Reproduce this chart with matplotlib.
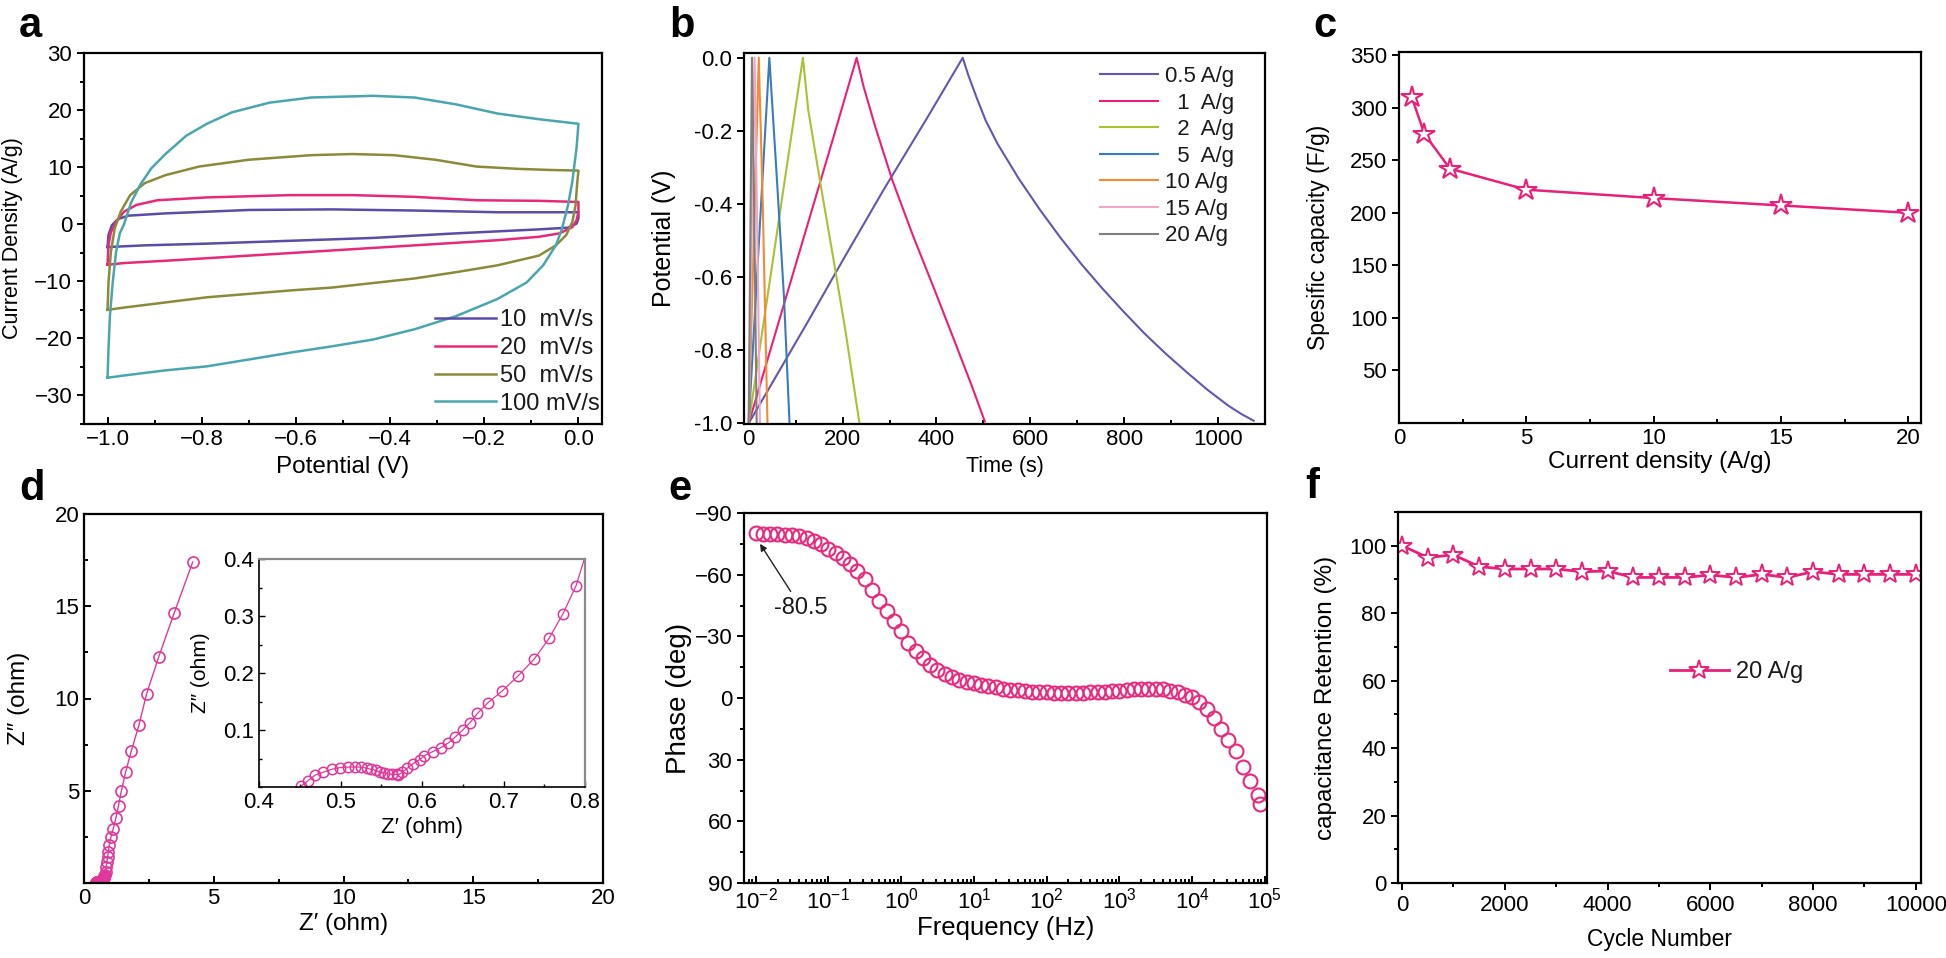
import numpy as np
import matplotlib
matplotlib.use("Agg")
import matplotlib.pyplot as plt
from matplotlib.ticker import MultipleLocator, LogLocator, NullFormatter, FixedLocator

plt.rcParams['font.family'] = ['Liberation Sans', 'DejaVu Sans']
plt.rcParams['axes.linewidth'] = 1.6
plt.rcParams['text.color'] = '#1a1a1a'

# ---------------- DATA ----------------
# (a) CV loops, potential (V) and current density (A/g)
cv_labels = ['10  mV/s', '20  mV/s', '50  mV/s', '100 mV/s']
cv_colors = ['#5b4ca8', '#e8287a', '#8c8a3a', '#4aa6ac']
cv10_V = [-1.0, -0.998, -0.991, -0.978, -0.956, -0.877, -0.70, -0.524, -0.348, -0.172, 0.0,
          0.0, -0.004, -0.022, -0.084, -0.26, -0.436, -0.612, -0.789, -0.921, -1.0]
cv10_I = [-4.0, -1.9, -0.2, 0.9, 1.5, 1.9, 2.5, 2.6, 2.4, 2.1, 2.1,
          1.0, 0.1, -0.6, -0.9, -1.6, -2.4, -2.9, -3.4, -3.7, -4.0]
cv20_V = [-1.0, -0.998, -0.993, -0.982, -0.965, -0.938, -0.894, -0.789, -0.612, -0.48, -0.348, -0.216, -0.084, 0.0,
          0.0, -0.004, -0.013, -0.04, -0.084, -0.172, -0.348, -0.524, -0.70, -0.877, -0.965, -1.0]
cv20_I = [-7.1, -3.7, -1.4, 0.4, 2.2, 3.4, 4.2, 4.7, 5.1, 5.1, 4.8, 4.2, 4.1, 3.9,
          2.2, 0.7, -0.5, -1.6, -2.2, -2.8, -3.7, -4.6, -5.5, -6.4, -6.8, -7.1]
cv50_V = [-1.0, -0.998, -0.993, -0.985, -0.972, -0.952, -0.921, -0.877, -0.806, -0.70, -0.568, -0.48, -0.392,
          -0.304, -0.216, -0.128, -0.057, 0.0, -0.003, -0.006, -0.013, -0.026, -0.048, -0.084, -0.172, -0.26,
          -0.348, -0.436, -0.524, -0.612, -0.70, -0.789, -0.877, -0.965, -1.0]
cv50_I = [-15.0, -10.2, -4.9, -0.8, 2.2, 5.1, 7.2, 8.6, 10.1, 11.3, 12.1, 12.3, 12.1,
          11.3, 10.1, 9.7, 9.5, 9.4, 6.9, 3.4, 0.4, -1.9, -3.7, -5.5, -7.2, -8.4,
          -9.5, -10.3, -11.1, -11.6, -12.2, -12.8, -13.7, -14.6, -15.0]
cv100_V = [-1.0, -0.998, -0.995, -0.989, -0.982, -0.974, -0.965, -0.95, -0.93, -0.907, -0.877, -0.833, -0.789,
           -0.736, -0.656, -0.568, -0.436, -0.348, -0.26, -0.172, -0.084, 0.0, -0.004, -0.013, -0.022, -0.035,
           -0.048, -0.075, -0.11, -0.172, -0.26, -0.348, -0.436, -0.524, -0.612, -0.70, -0.789, -0.877, -0.965, -1.0]
cv100_I = [-26.9, -21.9, -16.1, -10.2, -4.9, -1.6, 0.0, 3.8, 7.0, 9.8, 12.3, 15.5, 17.6,
           19.6, 21.3, 22.2, 22.5, 22.2, 21.0, 19.4, 18.4, 17.6, 13.4, 7.5, 3.4, -0.8,
           -3.7, -7.2, -10.2, -13.1, -16.1, -18.4, -20.2, -21.4, -22.5, -23.7, -24.9, -25.6, -26.5, -26.9]

# (b) galvanostatic charge/discharge
gcd_labels = ['0.5 A/g', '  1  A/g', '  2  A/g', '  5  A/g', '10 A/g', '15 A/g', '20 A/g']
gcd_colors = ['#6655b0', '#ec1f78', '#a8c232', '#3b7bbd', '#f58a33', '#f2a6c6', '#7f7f7f']
gcd05_t = [0, 50, 127, 200, 288, 380, 456, 468, 485, 505, 530, 575, 620, 664, 709, 754, 799, 843, 888,
           933, 977, 1022, 1050, 1076]
gcd05_V = [-1.0, -0.89, -0.72, -0.555, -0.36, -0.165, 0.0, -0.048, -0.107, -0.172, -0.235, -0.33, -0.415,
           -0.492, -0.565, -0.632, -0.695, -0.754, -0.809, -0.86, -0.908, -0.952, -0.975, -0.993]
gcd1_t = [0, 60, 120, 180, 230, 245, 270, 306, 351, 396, 440, 476, 503]
gcd1_V = [-1.0, -0.74, -0.48, -0.22, 0.0, -0.08, -0.19, -0.335, -0.49, -0.635, -0.78, -0.9, -0.995]
gcd2_t = [0, 115.5, 127, 154, 181, 207, 236]
gcd2_V = [-1.0, 0.0, -0.144, -0.353, -0.554, -0.754, -1.0]
gcd5_t = [0, 44, 60, 75, 87]
gcd5_V = [-1.0, 0.0, -0.33, -0.65, -1.0]
gcd10_t = [0, 21.5, 30, 40]
gcd10_V = [-1.0, 0.0, -0.4, -1.0]
gcd15_t = [0, 12.5, 18, 24]
gcd15_V = [-1.0, 0.0, -0.45, -1.0]
gcd20_t = [0, 7, 12, 17]
gcd20_V = [-1.0, 0.0, -0.45, -1.0]

# (c) rate capability
cur_density = [0.5, 1, 2, 5, 10, 15, 20]
spec_cap = [310, 275, 242, 222, 214, 207, 200]

# (d) Nyquist plot
z_re = [0.451, 0.460, 0.469, 0.479, 0.489, 0.499, 0.509, 0.518, 0.525, 0.532, 0.538, 0.544, 0.548, 0.553,
        0.558, 0.563, 0.569, 0.571, 0.576, 0.582, 0.589, 0.597, 0.603, 0.613, 0.623, 0.632, 0.641, 0.650,
        0.659, 0.668, 0.681, 0.698, 0.718, 0.738, 0.756, 0.773, 0.789, 0.81, 0.83, 0.85, 0.88, 0.91, 0.94,
        0.97, 1.04, 1.13, 1.23, 1.33, 1.44, 1.60, 1.82, 2.12, 2.41, 2.88, 3.48, 4.19]
z_im = [0.001, 0.011, 0.021, 0.026, 0.031, 0.034, 0.035, 0.035, 0.035, 0.033, 0.031, 0.029, 0.026, 0.025,
        0.023, 0.022, 0.022, 0.021, 0.026, 0.033, 0.041, 0.048, 0.055, 0.062, 0.069, 0.077, 0.088, 0.100,
        0.113, 0.129, 0.148, 0.168, 0.195, 0.225, 0.261, 0.304, 0.353, 0.45, 0.62, 0.85, 1.14, 1.41, 1.70,
        2.04, 2.50, 2.95, 3.53, 4.20, 4.99, 5.99, 7.14, 8.57, 10.24, 12.26, 14.65, 17.4]

# (e) Bode phase plot
log_freq = [-2.0, -1.9, -1.8, -1.7, -1.6, -1.5, -1.4, -1.3, -1.2, -1.1, -1.0, -0.9, -0.8, -0.7, -0.6, -0.5,
            -0.4, -0.3, -0.2, -0.1, 0.0, 0.1, 0.2, 0.3, 0.4, 0.5, 0.6, 0.7, 0.8, 0.9, 1.0, 1.1, 1.2, 1.3,
            1.4, 1.5, 1.6, 1.7, 1.8, 1.9, 2.0, 2.1, 2.2, 2.3, 2.4, 2.5, 2.6, 2.7, 2.8, 2.9, 3.0, 3.1, 3.2,
            3.3, 3.4, 3.5, 3.6, 3.7, 3.8, 3.9, 4.0, 4.1, 4.2, 4.3, 4.4, 4.5, 4.6, 4.7, 4.8, 4.9, 4.94]
phase = [-80.5, -80.0, -79.8, -79.6, -79.4, -79.1, -78.7, -77.8, -76.5, -74.7, -72.6, -70.4, -68.0, -65.3,
         -62.0, -57.8, -52.6, -47.3, -42.2, -37.6, -32.5, -27.0, -23.0, -19.3, -16.0, -13.4, -11.5, -10.1,
         -9.0, -8.0, -7.2, -6.5, -5.9, -5.2, -4.6, -4.1, -3.7, -3.3, -3.0, -2.8, -2.7, -2.6, -2.6, -2.6,
         -2.6, -2.6, -2.7, -2.8, -2.9, -3.2, -3.5, -3.9, -4.2, -4.4, -4.5, -4.5, -4.2, -3.6, -2.8, -1.6,
         -0.4, 1.9, 5.5, 9.8, 15.0, 20.5, 26.0, 33.5, 40.5, 47.0, 51.4]

# (f) cycling stability
cycles = [0, 500, 1000, 1500, 2000, 2500, 3000, 3500, 4000, 4500, 5000, 5500, 6000, 6500, 7000,
          7500, 8000, 8500, 9000, 9500, 10000]
retention = [100, 96.5, 97.3, 93.8, 93.1, 93.1, 93.1, 92.3, 92.5, 90.6, 90.6, 90.6, 91.3, 90.6, 91.5,
             90.6, 92.3, 91.5, 91.5, 91.5, 91.5]

# ---------------- FIGURE ----------------
W, H = 1946, 958
fig = plt.figure(figsize=(W / 100, H / 100), dpi=100)


def add_ax(l, t, r, b):
    return fig.add_axes([l / W, 1 - b / H, (r - l) / W, (b - t) / H])


TS = 16  # tick font
LS = 16.5  # label font
PINK = '#e8207a'


def style(ax, xdir='in', ydir='out'):
    ax.tick_params(axis='x', which='both', direction=xdir, labelsize=TS, width=1.4, top=False)
    ax.tick_params(axis='y', which='both', direction=ydir, labelsize=TS, width=1.4, right=False)
    ax.tick_params(which='major', length=5)
    ax.tick_params(which='minor', length=3)


def labels(ax, xl, yl, xs, ys, xy, yx):
    ax.set_xlabel(xl, fontsize=xs)
    ax.set_ylabel(yl, fontsize=ys)
    ax.xaxis.set_label_coords(0.5, xy)
    ax.yaxis.set_label_coords(yx, 0.5)


def panel_label(x, y, s):
    fig.text(x / W, 1 - y / H, s, fontsize=30, fontweight='bold', ha='left', va='baseline', color='k')


# (a)
ax = add_ax(84, 53, 602, 424)
for V, I, c, lab in zip([cv10_V, cv20_V, cv50_V, cv100_V], [cv10_I, cv20_I, cv50_I, cv100_I], cv_colors, cv_labels):
    ax.plot(V, I, color=c, lw=1.8, label=lab)
ax.set_xlim(-1.05, 0.05)
ax.set_ylim(-35, 30)
ax.set_xticks([-1.0, -0.8, -0.6, -0.4, -0.2, 0.0])
ax.xaxis.set_minor_locator(MultipleLocator(0.1))
ax.set_yticks([-30, -20, -10, 0, 10, 20, 30])
ax.yaxis.set_minor_locator(MultipleLocator(5))
style(ax)
labels(ax, 'Potential (V)', 'Current Density (A/g)', LS + 1, LS - 1, -0.085, -0.118)
ax.legend(loc='lower right', bbox_to_anchor=(0.995, 0.025), frameon=False, fontsize=TS + 1,
          handlelength=2.6, handletextpad=0.15, labelspacing=0.25, borderaxespad=0, borderpad=0)
panel_label(19, 37, 'a')

# (b)
ax = add_ax(744, 53, 1265, 424)
for t, V, c, lab in zip([gcd05_t, gcd1_t, gcd2_t, gcd5_t, gcd10_t, gcd15_t, gcd20_t],
                        [gcd05_V, gcd1_V, gcd2_V, gcd5_V, gcd10_V, gcd15_V, gcd20_V], gcd_colors, gcd_labels):
    ax.plot(t, V, color=c, lw=1.5, label=lab)
ax.set_xlim(-10, 1100)
ax.set_ylim(-1.002, 0.013)
ax.set_xticks([0, 200, 400, 600, 800, 1000])
ax.xaxis.set_minor_locator(MultipleLocator(100))
ax.set_yticks([-1.0, -0.8, -0.6, -0.4, -0.2, 0.0])
ax.set_yticklabels(['-1.0', '-0.8', '-0.6', '-0.4', '-0.2', '0.0'])
style(ax)
labels(ax, 'Time (s)', 'Potential (V)', LS - 1, LS + 1.5, -0.085, -0.13)
ax.legend(loc='upper right', bbox_to_anchor=(0.94, 0.965), frameon=False, fontsize=TS,
          handlelength=2.6, handletextpad=0.3, labelspacing=0.25, borderaxespad=0, borderpad=0)
panel_label(669, 37, 'b')

# (c)
ax = add_ax(1399, 52, 1921, 423)
ax.plot(cur_density, spec_cap, color=PINK, lw=1.8, marker='*', ms=16, mfc='white', mec=PINK, mew=1.5)
ax.set_xlim(0, 20.5)
ax.set_ylim(0, 353)
ax.set_xticks([0, 5, 10, 15, 20])
ax.xaxis.set_minor_locator(MultipleLocator(2.5))
ax.set_yticks([50, 100, 150, 200, 250, 300, 350])
style(ax)
labels(ax, 'Current density (A/g)', 'Spesific capacity (F/g)', LS + 1, LS, -0.075, -0.132)
panel_label(1313, 37, 'c')

# (d)
DPINK = '#e0389a'
ax = add_ax(84, 514, 603, 883)
ax.plot(z_re, z_im, color=DPINK, lw=1.0, marker='o', ms=8, mfc='none', mec=DPINK, mew=1.2)
ax.set_xlim(0, 20)
ax.set_ylim(0, 20)
ax.set_xticks([0, 5, 10, 15, 20])
ax.set_yticks([5, 10, 15, 20])
ax.xaxis.set_minor_locator(MultipleLocator(2.5))
ax.yaxis.set_minor_locator(MultipleLocator(2.5))
style(ax, 'in', 'in')
labels(ax, 'Z\u2032 (ohm)', 'Z\u2033 (ohm)', LS + 1, LS + 1, -0.08, -0.104)
panel_label(19, 500, 'd')

ins = add_ax(259, 559, 585, 787)
ins.plot(z_re, z_im, color=DPINK, lw=0.9, marker='o', ms=7.5, mfc='none', mec=DPINK, mew=1.1)
ins.set_xlim(0.4, 0.8)
ins.set_ylim(0, 0.4)
ins.set_xticks([0.4, 0.5, 0.6, 0.7, 0.8])
ins.set_yticks([0.1, 0.2, 0.3, 0.4])
ins.yaxis.set_minor_locator(MultipleLocator(0.05))
ins.xaxis.set_minor_locator(MultipleLocator(0.05))
ins.tick_params(which='both', direction='in', labelsize=TS, width=1.0, top=False, right=False)
ins.tick_params(which='major', length=4)
ins.tick_params(which='minor', length=2.5)
for s in ['left', 'bottom']:
    ins.spines[s].set_linewidth(1.2)
for s in ['top', 'right']:
    ins.spines[s].set_color('#8a8a8a')
    ins.spines[s].set_linewidth(1.6)
labels(ins, 'Z\u2032 (ohm)', 'Z\u2033 (ohm)', LS - 0.5, LS - 1.5, -0.13, -0.15)

# (e)
ax = add_ax(744, 513, 1267, 883)
freq = [10 ** v for v in log_freq]
ax.plot(freq, phase, ls='none', marker='o', ms=10, mfc='none', mec='#e82a7e', mew=1.5)
ax.set_xscale('log')
ax.set_xlim(10 ** -2.16, 10 ** 5.03)
ax.set_ylim(90, -90)
ax.set_yticks([-90, -60, -30, 0, 30, 60, 90])
ax.yaxis.set_minor_locator(MultipleLocator(15))
ax.xaxis.set_major_locator(FixedLocator([1e-2, 1e-1, 1e0, 1e1, 1e2, 1e3, 1e4, 1e5]))
ax.xaxis.set_minor_locator(LogLocator(base=10, subs=np.arange(2, 10) * 1.0, numticks=20))
ax.xaxis.set_minor_formatter(NullFormatter())
style(ax)
labels(ax, 'Frequency (Hz)', 'Phase (deg)', LS + 2, LS + 3.5, -0.09, -0.1)
ax.annotate('-80.5', xy=(10 ** -1.94, -75), xytext=(10 ** -1.375, -44), fontsize=TS + 1,
            ha='center', va='center',
            arrowprops=dict(arrowstyle='-|>', color='#222222', lw=1.0, mutation_scale=10, shrinkA=2, shrinkB=0))
panel_label(668, 500, 'e')

# (f)
ax = add_ax(1398, 512, 1921, 883)
ax.plot(cycles, retention, color=PINK, lw=2.0, marker='*', ms=15, mfc='white', mec=PINK, mew=1.4,
        label='20 A/g')
ax.set_xlim(-80, 10100)
ax.set_ylim(0, 110)
ax.set_xticks([0, 2000, 4000, 6000, 8000, 10000])
ax.xaxis.set_minor_locator(MultipleLocator(1000))
ax.set_yticks([0, 20, 40, 60, 80, 100])
ax.yaxis.set_minor_locator(MultipleLocator(10))
style(ax, 'out', 'out')
labels(ax, 'Cycle Number', 'capacitance Retention (%)', LS, LS + 1, -0.12, -0.117)
ax.legend(loc='center left', bbox_to_anchor=(0.52, 0.569), frameon=False, fontsize=TS + 1,
          handlelength=2.5, handletextpad=0.3, borderaxespad=0, borderpad=0, numpoints=1)
panel_label(1305, 498, 'f')

fig.savefig('out.png', dpi=100)
